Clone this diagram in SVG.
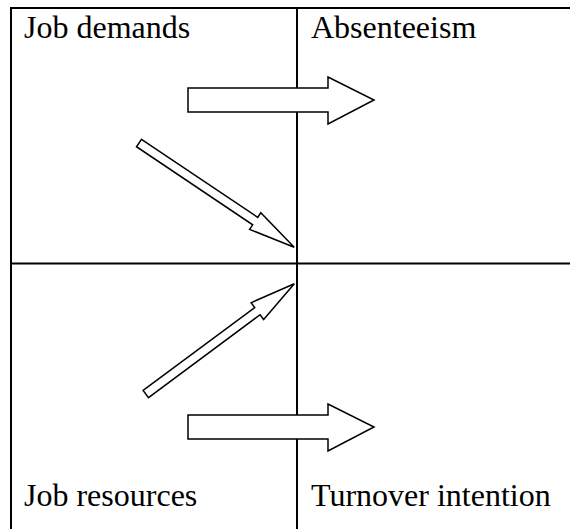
<svg xmlns="http://www.w3.org/2000/svg" width="570" height="529" viewBox="0 0 570 529">
<style>
.grid{stroke:#000;stroke-width:2;fill:none}
.arrow{fill:#fff;stroke:#000;stroke-width:1.5;stroke-linejoin:miter}
.lbl{font-family:"Liberation Serif","Times New Roman",serif;font-size:32px;fill:#000}
</style>
<rect width="570" height="529" fill="#fff"/>
<g id="grid">
<line class="grid" x1="10" y1="8" x2="570" y2="8"/>
<line class="grid" x1="11" y1="7" x2="11" y2="529"/>
<line class="grid" x1="297" y1="8" x2="297" y2="529"/>
<line class="grid" x1="11" y1="263.5" x2="570" y2="263.5"/>
</g>
<g id="node-job-demands"><text class="lbl" x="24" y="38">Job demands</text></g>
<g id="node-absenteeism"><text class="lbl" x="311" y="38">Absenteeism</text></g>
<g id="node-job-resources"><text class="lbl" x="24" y="506">Job resources</text></g>
<g id="node-turnover"><text class="lbl" x="311" y="506">Turnover intention</text></g>
<g id="connectors">
<polygon class="arrow" points="188,88 328,88 328,77 374,100 328,124 328,112 188,112"/>
<polygon class="arrow" points="188,415 328,415 328,404 374,427 328,451 328,439 188,439"/>
<polygon class="arrow" transform="translate(139,143) rotate(33.9)" points="0,-4.5 140,-4.5 140,-10 187,0 140,10 140,4.5 0,4.5"/>
<polygon class="arrow" transform="translate(145.8,394) rotate(-36.6)" points="0,-4.5 139,-4.5 139,-10.5 185,0 139,10.5 139,4.5 0,4.5"/>
</g>
</svg>
